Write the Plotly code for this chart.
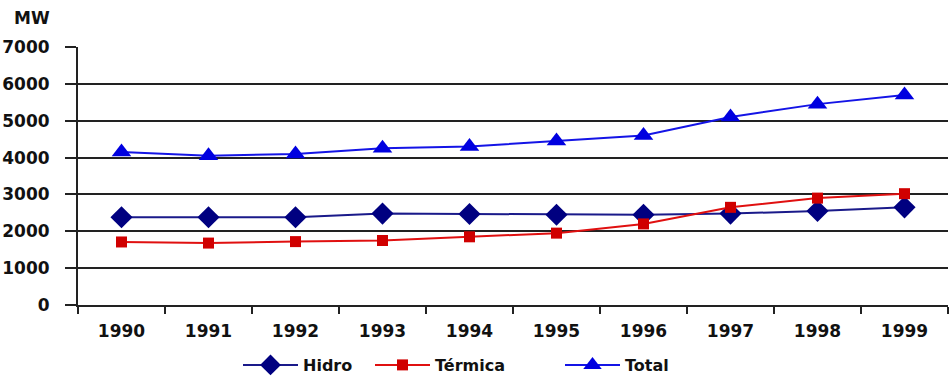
import plotly.graph_objects as go

years = ["1990", "1991", "1992", "1993", "1994", "1995", "1996", "1997", "1998", "1999"]
hidro = [2380, 2380, 2380, 2480, 2470, 2450, 2450, 2480, 2550, 2650]
termica = [1710, 1680, 1720, 1750, 1850, 1950, 2200, 2650, 2900, 3020]
total = [4150, 4050, 4100, 4250, 4300, 4450, 4600, 5100, 5450, 5700]
y_ticks = [0, 1000, 2000, 3000, 4000, 5000, 6000, 7000]

FONT = dict(family="DejaVu Sans", size=17, color="#111111", weight="bold")

fig = go.Figure()
fig.add_trace(go.Scatter(
    x=years, y=hidro, name="Hidro", mode="lines+markers",
    line=dict(color="#1a1a8a", width=2),
    marker=dict(symbol="diamond", size=17, color="#000080"),
    legend="legend",
))
fig.add_trace(go.Scatter(
    x=years, y=termica, name="Térmica", mode="lines+markers",
    line=dict(color="#e01010", width=2),
    marker=dict(symbol="square", size=11, color="#d00000"),
    legend="legend2",
))
fig.add_trace(go.Scatter(
    x=years, y=total, name="Total", mode="lines+markers",
    line=dict(color="#1414e6", width=2),
    marker=dict(symbol="triangle-up", size=17, color="#0000e0"),
    legend="legend3",
))

W, H = 949, 378
ml, mr, mt, mb = 78, 1, 47, 73
pw = W - ml - mr
ph = H - mt - mb

def px_x(px):
    return (px - ml) / pw

def px_y(py):
    return (H - mb - py) / ph

leg_common = dict(orientation="h", font=dict(family="DejaVu Sans", size=16, color="#111111", weight="bold"),
                  bgcolor="rgba(0,0,0,0)", yanchor="middle", xanchor="left",
                  xref="container", yref="container", y=(H - 365) / H,
                  itemwidth=55)

fig.update_layout(
    width=W, height=H,
    margin=dict(l=ml, r=mr, t=mt, b=mb, autoexpand=False),
    paper_bgcolor="white", plot_bgcolor="white",
    font=FONT,
    showlegend=True,
    legend=dict(**leg_common, x=238 / W),
    legend2=dict(**leg_common, x=370 / W),
    legend3=dict(**leg_common, x=560 / W),
    xaxis=dict(
        type="category", range=[-0.5, 9.5],
        tickson="boundaries", ticks="outside", ticklen=7, tickwidth=2, tickcolor="#222222",
        showline=True, linecolor="#222222", linewidth=2,
        showgrid=False, tickfont=FONT, fixedrange=True, ticklabelstandoff=10,
    ),
    yaxis=dict(
        range=[0, 7000], tickvals=y_ticks, ticktext=[str(v) for v in y_ticks],
        ticks="outside", ticklen=11, tickwidth=2, tickcolor="#222222",
        showline=True, linecolor="#222222", linewidth=2,
        showgrid=True, gridcolor="#222222", gridwidth=2,
        zeroline=False, tickfont=FONT, fixedrange=True, ticklabelstandoff=12,
    ),
    annotations=[dict(
        text="MW", xref="paper", yref="paper", x=px_x(32), y=px_y(18),
        xanchor="center", yanchor="middle", showarrow=False,
        font=dict(family="DejaVu Sans", size=17, color="#111111", weight="bold"),
    )],
)

fig.write_html("out.html")
